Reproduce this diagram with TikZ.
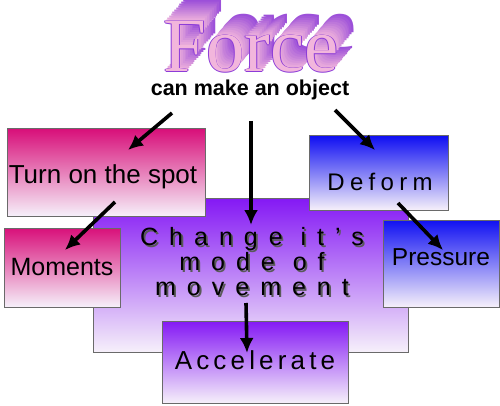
\documentclass[tikz,border=0pt]{standalone}
\usepackage{fontspec}
\usetikzlibrary{arrows.meta}
\setmainfont{Liberation Sans}
\newfontfamily\titlefont{Liberation Serif}
\definecolor{crimson}{HTML}{D8107A}
\definecolor{bluetop}{HTML}{1010F2}
\definecolor{violettop}{HTML}{8418F4}
\definecolor{paleend}{HTML}{F6F0FA}
\definecolor{pinkface}{HTML}{F2B6DC}
\definecolor{titleedge}{HTML}{8C3CD8}
\definecolor{edgegray}{HTML}{6A6A6A}

\begin{document}
\begin{tikzpicture}[x=1pt,y=-1pt,>={Latex[length=15pt,width=14pt]},
    box/.style={draw=edgegray,line width=1pt,inner sep=0pt,shading=axis,bottom color=paleend},
    redbox/.style={box,top color=crimson},
    bluebox/.style={box,top color=bluetop},
    purplebox/.style={box,top color=violettop},
    arr/.style={->,line width=3.6pt},
    boxtext/.style={font=\fontsize{25}{28}\selectfont,inner sep=0pt}]
        \useasboundingbox (0,0) rectangle (500,406);
        % title with its 3d shadow
        \foreach \i [evaluate=\i as \p using int(100-4*\i)] in {21,19,...,1}
        {
            \node[font=\titlefont\fontsize{77}{80}\selectfont,text=pinkface!\p!titleedge] at (251+0.85*\i,47-\i){Force};
        }
        \foreach \dx/\dy in {-.8/0,.8/0,0/-.8,0/.8}
        {
            \node[font=\titlefont\fontsize{77}{80}\selectfont,text=titleedge] at (251+\dx,47+\dy){Force};
        }
        \node[font=\titlefont\fontsize{77}{80}\selectfont,text=pinkface] (force) at (251,47){Force};
        \node[font=\bfseries\fontsize{21.5}{24}\selectfont] (can) at (250,90){can make an object};
        % boxes
        \node[purplebox,minimum width=315pt,minimum height=154pt] (change) at (250.5,275){};
        \node[redbox,minimum width=198pt,minimum height=87pt] (turn) at (106,172.5){};
        \node[redbox,minimum width=116pt,minimum height=79pt] (moments) at (62,267.5){};
        \node[bluebox,minimum width=139pt,minimum height=74pt] (deform) at (378.5,173){};
        \node[bluebox,minimum width=116pt,minimum height=87pt] (pressure) at (441,263.5){};
        \node[purplebox,minimum width=186pt,minimum height=82pt] (accel) at (255,362){};
        % labels
        \node[boxtext,font=\fontsize{26}{28}\selectfont] (turntext) at (103,177){Turn on the spot};
        \node[boxtext] (momentstext) at (62,267){Moments};
        \node[boxtext,font=\fontsize{24}{26}\selectfont\addfontfeature{LetterSpace=22}] (deformtext) at (380,182){Deform};
        \node[boxtext,font=\fontsize{24.5}{28}\selectfont] (pressuretext) at (441,257){Pressure};
        \node[boxtext,font=\fontsize{26}{28}\selectfont\addfontfeature{LetterSpace=16}] (acceltext) at (255,360){Accelerate};
        \node[boxtext,align=center,text=gray!70!black,font=\fontsize{25}{25}\selectfont\addfontfeature{LetterSpace=44}] at (253.8,263.8){Change it's\\mode of\\movement};
        \node[boxtext,align=center,font=\fontsize{25}{25}\selectfont\addfontfeature{LetterSpace=44}] (changetext) at (252,262){Change it's\\mode of\\movement};
        % arrows
        \coordinate (toturn) at (172,113);
        \coordinate (turnend) at (128,150);
        \coordinate (tomoments) at (115,202);
        \coordinate (momentsend) at (65,250);
        \coordinate (tochange) at (251,121);
        \coordinate (changeend) at (251,225);
        \coordinate (todeform) at (335,110);
        \coordinate (deformend) at (375,150);
        \coordinate (topressure) at (398,203);
        \coordinate (pressureend) at (443,250);
        \coordinate (toaccel) at (246,303);
        \coordinate (accelend) at (247,353);
        \draw[arr] (toturn)--(turnend);
        \draw[arr] (tomoments)--(momentsend);
        \draw[arr] (tochange)--(changeend);
        \draw[arr] (todeform)--(deformend);
        \draw[arr] (topressure)--(pressureend);
        \draw[arr] (toaccel)--(accelend);
    \end{tikzpicture}
\end{document}
